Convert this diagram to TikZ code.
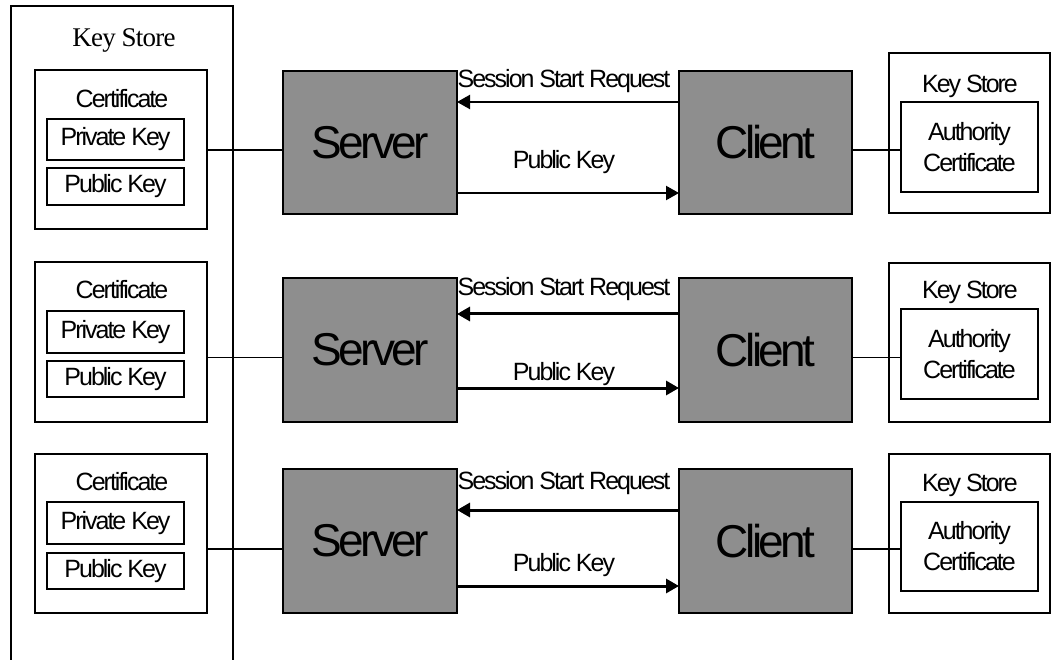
\documentclass[tikz,border=0pt]{standalone}
\usepackage{fontspec}
\setmainfont{Liberation Sans}
\newfontfamily\labelfont[LetterSpace=-8]{Liberation Sans}
\newfontfamily\titlefont[LetterSpace=-3]{Liberation Serif}
\usetikzlibrary{arrows.meta}
\definecolor{hostgray}{RGB}{142,142,142}
\tikzset{
  frame/.style={draw, line width=1.2pt, inner sep=0pt, outer sep=0pt},
  keybox/.style={frame, minimum width=137pt, font=\labelfont\fontsize{25}{30}\selectfont},
  host/.style={frame, fill=hostgray, minimum width=174pt, minimum height=144pt,
    font=\labelfont\fontsize{46}{50}\selectfont},
  store/.style={frame, minimum width=161pt, minimum height=160pt},
  authbox/.style={frame, minimum width=137pt, align=center,
    font=\labelfont\fontsize{25}{31}\selectfont},
  txt/.style={inner sep=0pt, font=\labelfont\fontsize{25}{30}\selectfont},
  link/.style={line width=1.2pt},
  msg/.style={line width=3pt, -{Triangle[length=13pt,width=14pt]}},
}
\begin{document}
\begin{tikzpicture}[x=1pt, y=-1pt]
\useasboundingbox (0,0) rectangle (1052,660);
\clip (0,0) rectangle (1052,660);

% server-side key store, running off the bottom edge
\node[frame, minimum width=222pt, minimum height=720pt] (ks) at (122,366) {};
\node[inner sep=0pt, font=\titlefont\fontsize{27}{30}\selectfont] (kslabel) at (124,40) {Key Store};

% ---------- row 1 ----------
\node[frame, minimum width=172pt, minimum height=159pt] (cert1) at (121,149.5) {};
\node[txt] (certl1) at (122,99) {Certificate};
\node[keybox, minimum height=41pt] (priv1) at (115.5,139.5) {Private Key};
\node[keybox, minimum height=37pt] (pub1) at (115.5,186.5) {Public Key};
\node[host, minimum height=143pt] (srv1) at (370,142.5) {Server};
\node[host, minimum width=173pt, minimum height=143pt] (cli1) at (765.5,142.5) {Client};
\node[store] (cks1) at (969.5,133) {};
\node[txt] (cksl1) at (970,86) {Key Store};
\node[authbox, minimum height=90pt] (auth1) at (969.5,147) {Authority\\Certificate};
\coordinate (j1) at (0,150);
\coordinate (r1) at (0,102);
\coordinate (p1) at (0,193);
\draw[link] (cert1.east |- j1) -- (srv1.west |- j1);
\draw[link] (cli1.east |- j1) -- (auth1.west |- j1);
\draw[msg, line width=2.2pt] (cli1.west |- r1) -- (srv1.east |- r1);
\draw[msg, line width=2.2pt] (srv1.east |- p1) -- (cli1.west |- p1);
\node[txt] (req1) at (564,81) {Session Start Request};
\node[txt] (key1) at (564,162) {Public Key};

% ---------- row 2 ----------
\node[frame, minimum width=172pt, minimum height=160pt] (cert2) at (121,342) {};
\node[txt] (certl2) at (122,290) {Certificate};
\node[keybox, minimum height=42pt] (priv2) at (115.5,332) {Private Key};
\node[keybox, minimum height=36pt] (pub2) at (115.5,379) {Public Key};
\node[host] (srv2) at (370,350) {Server};
\node[host, minimum width=173pt] (cli2) at (765.5,350) {Client};
\node[store, minimum height=159pt] (cks2) at (969.5,342.5) {};
\node[txt] (cksl2) at (970,292) {Key Store};
\node[authbox, minimum height=90pt] (auth2) at (969.5,354) {Authority\\Certificate};
\coordinate (j2) at (0,357.5);
\coordinate (r2) at (0,314);
\coordinate (p2) at (0,388);
\draw[link] (cert2.east |- j2) -- (srv2.west |- j2);
\draw[link] (cli2.east |- j2) -- (auth2.west |- j2);
\draw[msg] (cli2.west |- r2) -- (srv2.east |- r2);
\draw[msg] (srv2.east |- p2) -- (cli2.west |- p2);
\node[txt] (req2) at (564,289) {Session Start Request};
\node[txt] (key2) at (564,374) {Public Key};

% ---------- row 3 ----------
\node[frame, minimum width=172pt, minimum height=159pt] (cert3) at (121,533.5) {};
\node[txt] (certl3) at (122,482) {Certificate};
\node[keybox, minimum height=42pt] (priv3) at (115.5,523) {Private Key};
\node[keybox, minimum height=36pt] (pub3) at (115.5,571) {Public Key};
\node[host] (srv3) at (370,541) {Server};
\node[host, minimum width=173pt] (cli3) at (765.5,541) {Client};
\node[store, minimum height=159pt] (cks3) at (969.5,533.5) {};
\node[txt] (cksl3) at (970,485) {Key Store};
\node[authbox, minimum height=89pt] (auth3) at (969.5,546.5) {Authority\\Certificate};
\coordinate (j3) at (0,549);
\coordinate (r3) at (0,510);
\coordinate (p3) at (0,586);
\draw[link] (cert3.east |- j3) -- (srv3.west |- j3);
\draw[link] (cli3.east |- j3) -- (auth3.west |- j3);
\draw[msg] (cli3.west |- r3) -- (srv3.east |- r3);
\draw[msg] (srv3.east |- p3) -- (cli3.west |- p3);
\node[txt] (req3) at (564,483) {Session Start Request};
\node[txt] (key3) at (564,565) {Public Key};
\end{tikzpicture}
\end{document}
